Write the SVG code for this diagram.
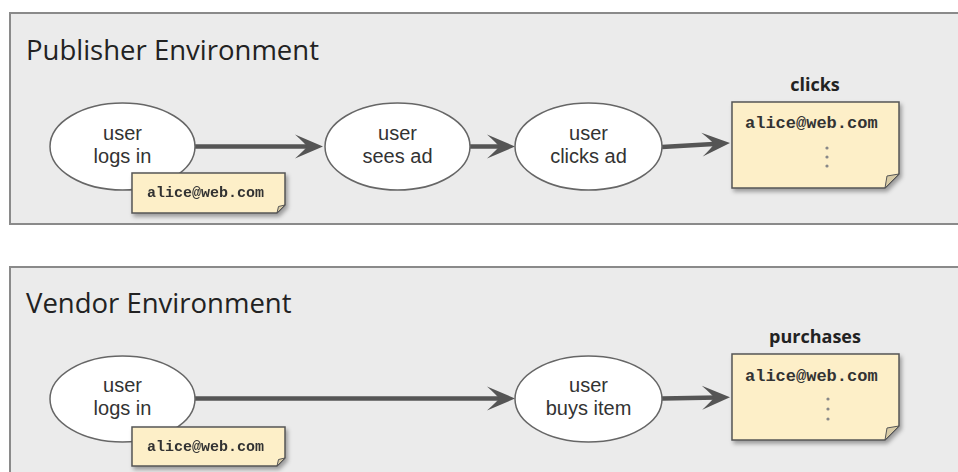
<svg xmlns="http://www.w3.org/2000/svg" width="958" height="472" viewBox="0 0 958 472">
<style>
.panel{fill:#ebebeb;stroke:#8a8a8a;stroke-width:2}
.title{font-family:"Open Sans","Liberation Sans",sans-serif;font-size:27.5px;fill:#222}
.ell{fill:#fff;stroke:#666;stroke-width:1.5}
.et{font-family:"Liberation Sans",Arial,sans-serif;font-size:20px;fill:#333;text-anchor:middle}
.note{fill:#fdefc8;stroke:#555;stroke-width:1.5}
.fold{fill:#d8cba6;stroke:#555;stroke-width:1}
.mono{font-family:"Liberation Mono","Courier New",monospace;font-weight:bold;fill:#333}
.lbl{font-family:"Open Sans","Liberation Sans",sans-serif;font-weight:bold;font-size:18px;fill:#222;text-anchor:middle}
.dot{fill:#888}
.conn{stroke:#555;stroke-width:4.5;fill:none;marker-end:url(#arr)}
</style>
<defs>
<marker id="arr" markerUnits="userSpaceOnUse" viewBox="-18 -13 32 26" refX="0" refY="0" markerWidth="32" markerHeight="26" orient="auto">
<path d="M12,0 L-16,-12 Q-6,-3 -4,0 Q-6,3 -16,12 Z" fill="#555"/>
</marker>
<filter id="sh" x="-10%" y="-10%" width="130%" height="140%">
<feDropShadow dx="2" dy="3" stdDeviation="2" flood-color="#000" flood-opacity="0.35"/>
</filter>
</defs>

<g id="publisher-panel">
<rect class="panel" x="10" y="13" width="960" height="211"/>
<text class="title" x="26" y="60">Publisher Environment</text>
</g>
<g id="vendor-panel">
<rect class="panel" x="10" y="267" width="960" height="240"/>
<text class="title" x="26" y="313">Vendor Environment</text>
</g>

<g id="connectors">
<line class="conn" x1="195" y1="146.5" x2="311" y2="146.5"/>
<line class="conn" x1="470" y1="146.5" x2="503" y2="146.5"/>
<line class="conn" x1="662" y1="147" x2="718" y2="143.7"/>
<line class="conn" x1="195" y1="398.5" x2="503" y2="398.5"/>
<line class="conn" x1="662" y1="398.5" x2="718" y2="397.5"/>
</g>

<g id="pub-login">
<ellipse class="ell" cx="122.5" cy="146.5" rx="72.5" ry="43.5"/>
<text class="et" x="122.5" y="140">user</text>
<text class="et" x="122.5" y="163">logs in</text>
</g>
<g id="pub-login-note" filter="url(#sh)">
<path class="note" d="M132,173 H285 V205 L277,213 H132 Z"/>
<path class="fold" d="M285,205 L277,213 L278.5,206.5 Z"/>
<text class="mono" x="147" y="197" font-size="15">alice@web.com</text>
</g>
<g id="pub-sees-ad">
<ellipse class="ell" cx="397.5" cy="146.5" rx="72.5" ry="43.5"/>
<text class="et" x="397.5" y="140">user</text>
<text class="et" x="397.5" y="163">sees ad</text>
</g>
<g id="pub-clicks-ad">
<ellipse class="ell" cx="588.5" cy="146.5" rx="73.5" ry="43.5"/>
<text class="et" x="588.5" y="140">user</text>
<text class="et" x="588.5" y="163">clicks ad</text>
</g>
<g id="clicks-table">
<text class="lbl" x="815" y="91">clicks</text>
<g filter="url(#sh)">
<path class="note" d="M732,102 H899 V174 L885,188 H732 Z"/>
<path class="fold" d="M899,174 L885,188 L887,176 Z"/>
</g>
<text class="mono" x="745" y="128" font-size="17">alice@web.com</text>
<circle class="dot" cx="827" cy="148" r="1.6"/>
<circle class="dot" cx="827" cy="157" r="1.6"/>
<circle class="dot" cx="827" cy="166" r="1.6"/>
</g>

<g id="ven-login">
<ellipse class="ell" cx="122.5" cy="399" rx="72.5" ry="43"/>
<text class="et" x="122.5" y="392">user</text>
<text class="et" x="122.5" y="415">logs in</text>
</g>
<g id="ven-login-note" filter="url(#sh)">
<path class="note" d="M132,427 H285 V458 L277,466 H132 Z"/>
<path class="fold" d="M285,458 L277,466 L278.5,459.5 Z"/>
<text class="mono" x="147" y="451" font-size="15">alice@web.com</text>
</g>
<g id="ven-buys-item">
<ellipse class="ell" cx="588.5" cy="399" rx="73.5" ry="43"/>
<text class="et" x="588.5" y="392">user</text>
<text class="et" x="588.5" y="415">buys item</text>
</g>
<g id="purchases-table">
<text class="lbl" x="815" y="343">purchases</text>
<g filter="url(#sh)">
<path class="note" d="M732,354 H899 V426 L885,440 H732 Z"/>
<path class="fold" d="M899,426 L885,440 L887,428 Z"/>
</g>
<text class="mono" x="745" y="381" font-size="17">alice@web.com</text>
<circle class="dot" cx="828" cy="399" r="1.6"/>
<circle class="dot" cx="828" cy="409" r="1.6"/>
<circle class="dot" cx="828" cy="419" r="1.6"/>
</g>
</svg>
